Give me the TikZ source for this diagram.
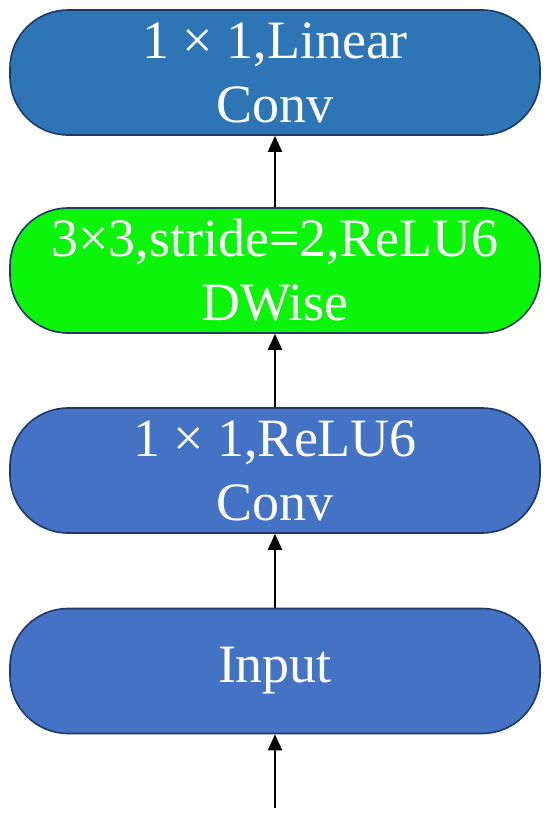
\documentclass[tikz,border=0pt]{standalone}
\usepackage{fontspec}
\setmainfont{Liberation Serif}
\usepackage{tikz}
\usetikzlibrary{arrows.meta}

\definecolor{convblue}{HTML}{2E75B6}
\definecolor{layerblue}{HTML}{4472C4}
\definecolor{dwgreen}{HTML}{0BF50B}
\definecolor{edgenavy}{HTML}{1F3864}

\begin{document}
\begin{tikzpicture}[x=0.5pt, y=-0.5pt, >={Triangle[length=8pt,width=7pt]},
	layer/.style={draw=edgenavy, line width=0.8pt, rounded corners=29pt, minimum width=265pt, minimum height=62.5pt, inner sep=0pt, align=center, text=white, font=\fontsize{27}{32}\selectfont},
	flow/.style={->, line width=1pt}]
	\useasboundingbox (0,0) rectangle (550,818);
	\node[layer, fill=convblue] (linconv) at (275,72.5) {1 × 1,Linear\\Conv};
	\node[layer, fill=dwgreen] (dwise) at (275,270.5) {3×3,stride=2,ReLU6\\DWise};
	\node[layer, fill=layerblue] (expconv) at (275,470.5) {1 × 1,ReLU6\\Conv};
	\node[layer, fill=layerblue] (input) at (275,671) {Input};
	\coordinate (src) at (275,808);
	\draw[flow] (src) -- (input);
	\draw[flow] (input) -- (expconv);
	\draw[flow] (expconv) -- (dwise);
	\draw[flow] (dwise) -- (linconv);
\end{tikzpicture}
\end{document}
